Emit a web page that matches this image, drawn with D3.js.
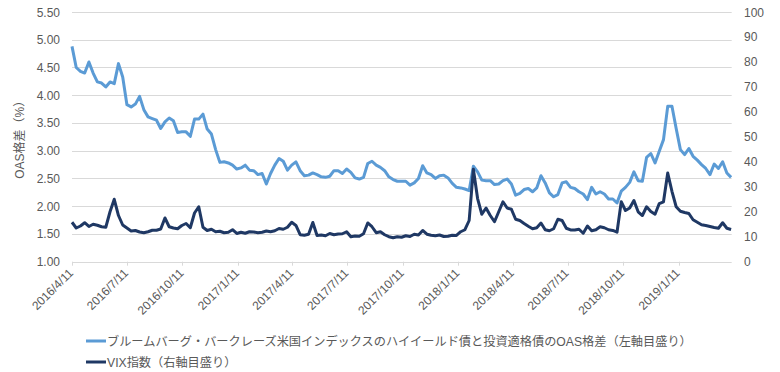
<!DOCTYPE html>
<html><head><meta charset="utf-8">
<script src="https://cdn.jsdelivr.net/npm/d3@7/dist/d3.min.js"></script>
<style>
body{margin:0;background:#fff}
svg{display:block}
text{font-family:"Liberation Sans",Arial,"Noto Sans CJK JP",sans-serif}
</style>
</head><body>
<svg id="chart" width="780" height="372"></svg>
<script>
const dates = [
"2016-04-11","2016-04-18","2016-04-25","2016-05-02","2016-05-09","2016-05-16","2016-05-23","2016-05-30","2016-06-06","2016-06-13",
"2016-06-20","2016-06-27","2016-07-04","2016-07-11","2016-07-18","2016-07-25","2016-08-01","2016-08-08","2016-08-15","2016-08-22",
"2016-08-29","2016-09-05","2016-09-12","2016-09-19","2016-09-26","2016-10-03","2016-10-10","2016-10-17","2016-10-24","2016-10-31",
"2016-11-07","2016-11-14","2016-11-21","2016-11-28","2016-12-05","2016-12-12","2016-12-19","2016-12-26","2017-01-02","2017-01-09",
"2017-01-16","2017-01-23","2017-01-30","2017-02-06","2017-02-13","2017-02-20","2017-02-27","2017-03-06","2017-03-13","2017-03-20",
"2017-03-27","2017-04-03","2017-04-10","2017-04-17","2017-04-24","2017-05-01","2017-05-08","2017-05-15","2017-05-22","2017-05-29",
"2017-06-05","2017-06-12","2017-06-19","2017-06-26","2017-07-03","2017-07-10","2017-07-17","2017-07-24","2017-07-31","2017-08-07",
"2017-08-14","2017-08-21","2017-08-28","2017-09-04","2017-09-11","2017-09-18","2017-09-25","2017-10-02","2017-10-09","2017-10-16",
"2017-10-23","2017-10-30","2017-11-06","2017-11-13","2017-11-20","2017-11-27","2017-12-04","2017-12-11","2017-12-18","2017-12-25",
"2018-01-01","2018-01-08","2018-01-15","2018-01-22","2018-01-29","2018-02-05","2018-02-12","2018-02-19","2018-02-26","2018-03-05",
"2018-03-12","2018-03-19","2018-03-26","2018-04-02","2018-04-09","2018-04-16","2018-04-23","2018-04-30","2018-05-07","2018-05-14",
"2018-05-21","2018-05-28","2018-06-04","2018-06-11","2018-06-18","2018-06-25","2018-07-02","2018-07-09","2018-07-16","2018-07-23",
"2018-07-30","2018-08-06","2018-08-13","2018-08-20","2018-08-27","2018-09-03","2018-09-10","2018-09-17","2018-09-24","2018-10-01",
"2018-10-08","2018-10-15","2018-10-22","2018-10-29","2018-11-05","2018-11-12","2018-11-19","2018-11-26","2018-12-03","2018-12-10",
"2018-12-17","2018-12-24","2018-12-31","2019-01-07","2019-01-14","2019-01-21","2019-01-28","2019-02-04","2019-02-11","2019-02-18",
"2019-02-25","2019-03-04","2019-03-11","2019-03-18","2019-03-25","2019-04-01","2019-04-08"
];
const oasSpread = [
4.88,4.50,4.43,4.40,4.60,4.40,4.24,4.22,4.15,4.24,
4.21,4.57,4.33,3.83,3.79,3.84,3.98,3.74,3.61,3.58,
3.55,3.40,3.52,3.59,3.54,3.33,3.34,3.34,3.26,3.57,
3.57,3.66,3.39,3.30,3.02,2.79,2.80,2.78,2.74,2.67,
2.69,2.74,2.65,2.64,2.57,2.59,2.40,2.59,2.74,2.86,
2.81,2.65,2.74,2.80,2.64,2.55,2.56,2.60,2.57,2.53,
2.52,2.54,2.64,2.64,2.59,2.67,2.61,2.51,2.49,2.52,
2.77,2.81,2.74,2.70,2.64,2.53,2.48,2.45,2.45,2.45,
2.38,2.42,2.50,2.73,2.60,2.57,2.50,2.55,2.56,2.51,
2.41,2.34,2.33,2.31,2.28,2.72,2.62,2.47,2.46,2.46,
2.39,2.40,2.46,2.49,2.40,2.20,2.23,2.30,2.32,2.26,
2.33,2.55,2.42,2.24,2.17,2.21,2.42,2.44,2.34,2.32,
2.26,2.22,2.12,2.34,2.22,2.26,2.22,2.13,2.13,2.06,
2.27,2.34,2.43,2.62,2.46,2.45,2.88,2.95,2.78,2.99,
3.20,3.80,3.80,3.40,3.02,2.93,3.04,2.90,2.83,2.75,
2.68,2.57,2.76,2.68,2.80,2.60,2.52
];
const vixIndex = [
15.8,13.5,14.3,15.6,14.1,15.0,14.6,14.0,13.8,20.0,
25.0,18.5,14.7,13.5,12.3,12.5,11.9,11.6,12.0,12.6,
12.6,13.1,17.5,14.0,13.5,13.2,14.5,15.3,13.6,19.5,
22.0,13.8,12.5,13.0,12.0,12.2,11.6,11.8,12.8,11.3,
11.8,11.4,12.0,11.9,11.6,11.8,12.3,12.0,12.4,13.3,
13.0,13.8,15.8,14.5,10.8,10.6,11.0,15.7,10.5,10.7,
10.4,11.3,10.8,11.1,11.2,12.0,10.0,10.3,10.2,11.2,
15.5,14.0,11.6,12.0,10.8,10.0,9.6,10.0,9.8,10.4,
10.1,11.0,10.7,12.5,11.0,10.6,10.4,10.7,10.1,10.2,
10.6,10.5,12.0,12.8,16.5,37.0,25.3,19.0,21.5,18.5,
16.0,20.0,24.0,21.5,21.0,17.0,16.5,15.3,14.2,13.2,
13.6,15.5,12.8,12.4,13.2,17.0,16.5,13.4,12.7,12.7,
13.0,11.4,14.3,12.4,12.8,14.0,13.6,12.8,12.5,11.8,
24.0,20.5,21.5,24.5,20.0,18.5,22.0,20.1,19.0,23.3,
24.0,35.5,28.2,22.0,20.2,19.7,19.3,16.8,15.8,14.8,
14.5,14.1,13.7,13.4,15.6,13.4,12.9
];
const xTickLabels = ["2016/4/11","2016/7/11","2016/10/11","2017/1/11","2017/4/11","2017/7/11","2017/10/11","2018/1/11","2018/4/11","2018/7/11","2018/10/11","2019/1/11"];
const leftTicks = [1.00,1.50,2.00,2.50,3.00,3.50,4.00,4.50,5.00,5.50];
const rightTicks = [0,10,20,30,40,50,60,70,80,90,100];
const leftTitle = "OAS格差（%）";
const seriesNames = ["ブルームバーグ・バークレーズ米国インデックスのハイイールド債と投資適格債のOAS格差（左軸目盛り）","VIX指数（右軸目盛り）"];

const parse = d3.timeParse("%Y-%m-%d");
const parseTick = d3.timeParse("%Y/%m/%d");
const svg = d3.select("#chart");
const L = 72, R = 731.7, T = 12, B = 261.7;
const x = d3.scaleTime().domain([parse("2016-04-11"), parse("2019-04-09")]).range([L, R]);
const yL = d3.scaleLinear().domain([1, 5.5]).range([B, T]);
const yR = d3.scaleLinear().domain([0, 100]).range([B, T]);
const textCol = "#595959";

// gridlines
svg.append("g").selectAll("line").data(leftTicks).join("line")
  .attr("x1", L).attr("x2", R)
  .attr("y1", d => Math.round(yL(d)) + 0.5).attr("y2", d => Math.round(yL(d)) + 0.5)
  .attr("stroke", "#d9d9d9").attr("stroke-width", 1);

// left axis labels
svg.append("g").selectAll("text").data(leftTicks).join("text")
  .attr("x", 60).attr("y", d => yL(d) + 4.5)
  .attr("text-anchor", "end").attr("font-size", 12).attr("fill", textCol)
  .text(d => d.toFixed(2));

// right axis labels
svg.append("g").selectAll("text").data(rightTicks).join("text")
  .attr("x", 744).attr("y", d => yR(d) + 4.5)
  .attr("text-anchor", "start").attr("font-size", 12).attr("fill", textCol)
  .text(d => d);

// left title
svg.append("text").attr("transform", `translate(24,${(T + B) / 2}) rotate(-90)`)
  .attr("text-anchor", "middle").attr("font-size", 12).attr("fill", textCol)
  .text(leftTitle);

// x ticks and labels
const xt = svg.append("g");
xt.selectAll("line").data(xTickLabels).join("line")
  .attr("x1", d => Math.round(x(parseTick(d))) + 0.5).attr("x2", d => Math.round(x(parseTick(d))) + 0.5)
  .attr("y1", B).attr("y2", B + 4).attr("stroke", "#d9d9d9");
xt.selectAll("text").data(xTickLabels).join("text")
  .attr("transform", d => `translate(${x(parseTick(d)) + 2},${B + 12}) rotate(-45)`)
  .attr("text-anchor", "end").attr("font-size", 12).attr("fill", textCol)
  .text(d => d);

// lines
const pts = dates.map(parse);
const lineL = d3.line().x((d, i) => x(pts[i])).y(d => yL(d)).curve(d3.curveLinear);
const lineR = d3.line().x((d, i) => x(pts[i])).y(d => yR(d)).curve(d3.curveLinear);
svg.append("path").attr("d", lineL(oasSpread)).attr("fill", "none")
  .attr("stroke", "#5b9bd5").attr("stroke-width", 3).attr("stroke-linejoin", "round");
svg.append("path").attr("d", lineR(vixIndex)).attr("fill", "none")
  .attr("stroke", "#1f3864").attr("stroke-width", 3).attr("stroke-linejoin", "round");

// legend
const colors = ["#5b9bd5", "#1f3864"];
const lg = svg.append("g");
seriesNames.forEach((n, i) => {
  const yy = 341 + i * 21;
  lg.append("line").attr("x1", 86).attr("x2", 106).attr("y1", yy).attr("y2", yy)
    .attr("stroke", colors[i]).attr("stroke-width", 3);
  lg.append("text").attr("x", 107).attr("y", yy + 4.5).attr("font-size", 12.2)
    .attr("fill", textCol).text(n);
});
</script>
</body></html>
